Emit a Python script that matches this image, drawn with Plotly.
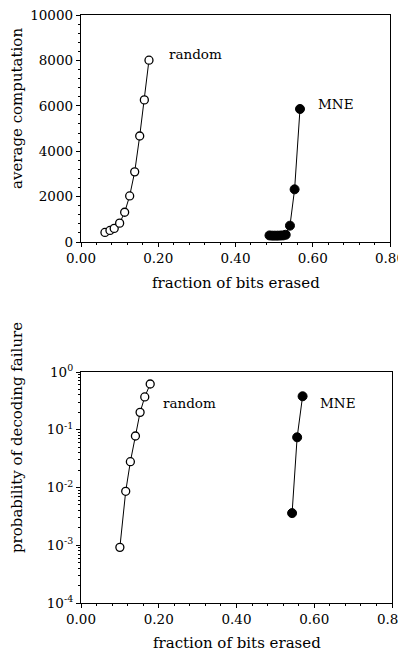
import plotly.graph_objects as go

# ---- data ----
random_x_comp = [0.062, 0.075, 0.086, 0.100, 0.113, 0.126, 0.139, 0.152, 0.164, 0.176]
random_y_comp = [420, 510, 600, 830, 1310, 2030, 3090, 4670, 6260, 8010]
mne_x_comp = [0.488, 0.495, 0.502, 0.509, 0.516, 0.523, 0.530, 0.541, 0.553, 0.567]
mne_y_comp = [290, 280, 280, 280, 285, 290, 320, 720, 2320, 5860]

random_x_fail = [0.100, 0.115, 0.127, 0.140, 0.152, 0.164, 0.178]
random_y_fail = [0.00092, 0.0086, 0.028, 0.078, 0.20, 0.37, 0.62]
mne_x_fail = [0.543, 0.556, 0.570]
mne_y_fail = [0.0036, 0.074, 0.38]

x_ticks = [0.0, 0.2, 0.4, 0.6, 0.8]
x_ticktext = ["0.00", "0.20", "0.40", "0.60", "0.80"]
y_ticks_comp = [0, 2000, 4000, 6000, 8000, 10000]
y_ticktext_comp = ["0", "2000", "4000", "6000", "8000", "10000"]
y_ticks_fail = [1e-4, 1e-3, 1e-2, 1e-1, 1]
y_ticktext_fail = ["10<sup>-4</sup>", "10<sup>-3</sup>", "10<sup>-2</sup>", "10<sup>-1</sup>", "10<sup>0</sup>"]

FONT = "DejaVu Serif"
FS = 13.5
FT = 15
W, H = 398, 647
OX, OY = 8, 8  # default page margin of the html body

fig = go.Figure()

line = dict(color="black", width=1)
open_m = dict(symbol="circle", size=8, color="white", line=dict(color="black", width=1.3))
fill_m = dict(symbol="circle", size=9, color="black", line=dict(color="black", width=1))

fig.add_trace(go.Scatter(x=random_x_comp, y=random_y_comp, mode="lines+markers",
                         line=line, marker=open_m, xaxis="x", yaxis="y", showlegend=False))
fig.add_trace(go.Scatter(x=mne_x_comp, y=mne_y_comp, mode="lines+markers",
                         line=line, marker=fill_m, xaxis="x", yaxis="y", showlegend=False))
fig.add_trace(go.Scatter(x=random_x_fail, y=random_y_fail, mode="lines+markers",
                         line=line, marker=open_m, xaxis="x2", yaxis="y2", showlegend=False))
fig.add_trace(go.Scatter(x=mne_x_fail, y=mne_y_fail, mode="lines+markers",
                         line=line, marker=fill_m, xaxis="x2", yaxis="y2", showlegend=False))

def px(x):
    return (x - OX) / W

def py(y):
    return 1 - (y - OY) / H

axis_common = dict(showgrid=False, zeroline=False, showline=True, linecolor="black",
                   linewidth=1.3, mirror=True, ticks="outside", ticklen=4, tickwidth=1,
                   tickcolor="black", automargin=False, ticklabeloverflow="allow",
                   tickfont=dict(family=FONT, size=FS, color="black"))

minor_log = []
for e in range(-4, 0):
    for k in range(2, 10):
        minor_log.append(k * 10 ** e)

fig.update_layout(
    width=W, height=H,
    margin=dict(l=0, r=0, t=0, b=0),
    paper_bgcolor="white", plot_bgcolor="white",
    xaxis=dict(domain=[px(81), px(390)], range=[0, 0.8], anchor="y",
               tickvals=x_ticks, ticktext=x_ticktext,
               minor=dict(dtick=0.04, ticks="outside", ticklen=2, tickcolor="black"),
               **axis_common),
    yaxis=dict(domain=[py(242), py(15)], range=[0, 10000], anchor="x",
               tickvals=y_ticks_comp, ticktext=y_ticktext_comp,
               minor=dict(dtick=400, ticks="outside", ticklen=2, tickcolor="black"),
               **axis_common),
    xaxis2=dict(domain=[px(81), px(392)], range=[0, 0.8], anchor="y2",
                tickvals=x_ticks, ticktext=x_ticktext,
                minor=dict(dtick=0.04, ticks="outside", ticklen=2, tickcolor="black"),
                **axis_common),
    yaxis2=dict(domain=[py(603), py(372)], type="log", range=[-4, 0], anchor="x2",
                tickvals=y_ticks_fail, ticktext=y_ticktext_fail,
                minor=dict(tickvals=minor_log, ticks="outside", ticklen=2, tickcolor="black"),
                **axis_common),
)

tf = dict(family=FONT, size=FS, color="black")
tt = dict(family=FONT, size=FT, color="black")
ann = [
    dict(x=0.222, y=8300, xref="x", yref="y", text="random", showarrow=False,
         xanchor="left", yanchor="middle", font=tf),
    dict(x=0.609, y=6100, xref="x", yref="y", text="MNE", showarrow=False,
         xanchor="left", yanchor="middle", font=tf),
    dict(x=0.206, y=-0.53, xref="x2", yref="y2", text="random", showarrow=False,
         xanchor="left", yanchor="middle", font=tf),
    dict(x=0.609, y=-0.54, xref="x2", yref="y2", text="MNE", showarrow=False,
         xanchor="left", yanchor="middle", font=tf),
    dict(x=px(236), y=py(283), xref="paper", yref="paper", text="fraction of bits erased",
         showarrow=False, xanchor="center", yanchor="middle", font=tt),
    dict(x=px(237), y=py(643), xref="paper", yref="paper", text="fraction of bits erased",
         showarrow=False, xanchor="center", yanchor="middle", font=tt),
    dict(x=px(17), y=py(109), xref="paper", yref="paper", text="average computation",
         showarrow=False, textangle=-90, xanchor="center", yanchor="middle", font=tt),
    dict(x=px(17), y=py(438), xref="paper", yref="paper", text="probability of decoding failure",
         showarrow=False, textangle=-90, xanchor="center", yanchor="middle", font=tt),
]
fig.update_layout(annotations=ann)

fig.write_html("out.html")
